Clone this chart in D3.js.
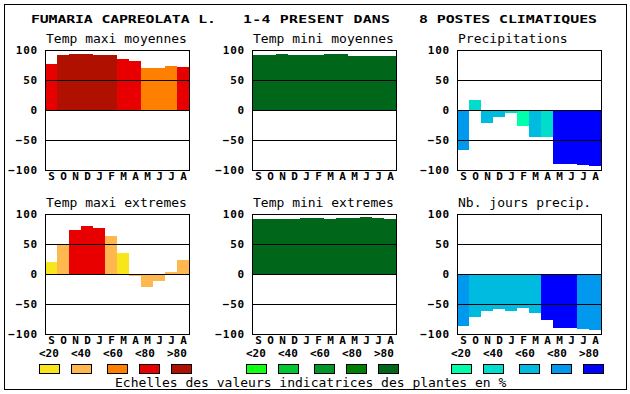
<!DOCTYPE html>
<html><head><meta charset="utf-8">
<script src="https://cdn.jsdelivr.net/npm/d3@7/dist/d3.min.js"></script>
<style>
html,body{margin:0;padding:0;background:#fff;}
svg{display:block;}
text{font-family:"DejaVu Sans Mono",monospace;}
</style></head>
<body>
<svg id="c" width="630" height="394"></svg>
<script>
const months = ["S","O","N","D","J","F","M","A","M","J","J","A"];
const classLabels = ["<20","<40","<60","<80",">80"];
const yTicks = [-100,-50,0,50,100];

const tempMaxiMoy      = [77,92,94,94,92,92,85,82,70,70,74,72];
const tempMaxiMoyClass = [3,4,4,4,4,4,3,3,2,2,2,3];
const tempMiniMoy      = [92,92,94,92,92,92,94,94,90,90,90,90];
const tempMiniMoyClass = [4,4,4,4,4,4,4,4,4,4,4,4];
const precip           = [-67,17,-22,-12,-5,-27,-45,-45,-90,-90,-92,-94];
const precipClass      = [3,1,2,2,1,0,2,1,4,4,4,4];
const tempMaxiExt      = [20,50,74,80,77,64,35,-4,-22,-12,4,24];
const tempMaxiExtClass = [0,1,3,3,3,1,0,1,1,1,1,1];
const tempMiniExt      = [92,92,92,92,94,94,92,94,94,95,94,92];
const tempMiniExtClass = [4,4,4,4,4,4,4,4,4,4,4,4];
const nbJours          = [-87,-72,-61,-58,-61,-56,-65,-77,-90,-90,-92,-94];
const nbJoursClass     = [3,2,2,2,2,2,2,4,4,4,3,3];

const warm  = ["#f8e51c","#ffb84f","#ff8000","#e80000","#b01000"];
const green = ["#11ff11","#00c832","#009628","#008000","#00661a"];
const blue  = ["#00ffaa","#00ddcc","#00bbe0","#0099ee","#0000ff"];

const titleMain = ["FUMARIA CAPREOLATA L.","1-4 PRESENT DANS","8 POSTES CLIMATIQUES"];
const footer = "Echelles des valeurs indicatrices des plantes en %";

const panels = [
  {title:"Temp maxi moyennes", v:tempMaxiMoy, c:tempMaxiMoyClass, pal:warm, col:0, row:0},
  {title:"Temp mini moyennes", v:tempMiniMoy, c:tempMiniMoyClass, pal:green, col:1, row:0},
  {title:"Precipitations", v:precip, c:precipClass, pal:blue, col:2, row:0},
  {title:"Temp maxi extremes", v:tempMaxiExt, c:tempMaxiExtClass, pal:warm, col:0, row:1},
  {title:"Temp mini extremes", v:tempMiniExt, c:tempMiniExtClass, pal:green, col:1, row:1},
  {title:"Nb. jours precip.", v:nbJours, c:nbJoursClass, pal:blue, col:2, row:1}
];
const palettes = [warm, green, blue];

const svg = d3.select("#c");
const lefts = [45, 252, 457];
const tops = [50, 214];
const W = 144, H = 120;

// outer border
svg.append("rect").attr("x",4.5).attr("y",4.5).attr("width",622).attr("height",385)
  .attr("fill","none").attr("stroke","#000").attr("stroke-width",1);

// main title (wide bitmap-like lettering: horizontally stretched text)
const tPos = [[31,185],[243,147],[419,178]];
const sx = 1.35;
titleMain.forEach((t,i)=>{
  svg.append("text").attr("transform",`translate(${tPos[i][0]},23) scale(${sx},1)`).text(t)
    .attr("font-size",11).attr("font-weight","bold")
    .attr("textLength",tPos[i][1]/sx).attr("lengthAdjust","spacing");
});

panels.forEach(p=>{
  const x0 = lefts[p.col], y0 = tops[p.row];
  const g = svg.append("g").attr("transform",`translate(${x0},${y0})`);
  const x = d3.scaleBand().domain(d3.range(12)).range([0,W]).padding(0);
  const y = d3.scaleLinear().domain([-100,100]).range([H,0]);

  g.selectAll("rect.bar").data(p.v).join("rect").attr("class","bar")
    .attr("x",(d,i)=>x(i)).attr("width",x.bandwidth())
    .attr("y",d=>Math.min(y(d),y(0))).attr("height",d=>Math.abs(y(d)-y(0)))
    .attr("fill",(d,i)=>p.pal[p.c[i]]).attr("shape-rendering","crispEdges");

  g.selectAll("line.grid").data([50,0,-50]).join("line").attr("class","grid")
    .attr("x1",0).attr("x2",W).attr("y1",d=>Math.round(y(d))+0.5).attr("y2",d=>Math.round(y(d))+0.5)
    .attr("stroke","#000").attr("stroke-width",1);

  g.append("rect").attr("x",0.5).attr("y",0.5).attr("width",W).attr("height",H)
    .attr("fill","none").attr("stroke","#000").attr("stroke-width",1);

  const ax = g.append("g").call(d3.axisLeft(y).tickValues(yTicks).tickSize(0).tickPadding(7));
  ax.select(".domain").remove();
  ax.selectAll("text").attr("font-family","DejaVu Sans Mono").attr("font-size",11)
    .attr("font-weight","bold").attr("letter-spacing",0.8).attr("fill","#000");

  g.selectAll("text.m").data(months).join("text").attr("class","m")
    .attr("x",(d,i)=>x(i)+x.bandwidth()/2+0.5).attr("y",H+10)
    .attr("text-anchor","middle").attr("font-size",11).attr("font-weight","bold").text(d=>d);

  svg.append("text").attr("x",x0+1).attr("y",y0-7).attr("font-size",13).text(p.title);
});

// legends
palettes.forEach((pal,k)=>{
  const lx = lefts[k]-6;
  classLabels.forEach((lab,i)=>{
    const tx = lx + 32*i;
    svg.append("text").attr("x",tx).attr("y",357).attr("font-size",11).attr("font-weight","bold").text(lab);
    const bx = tx + (i>=2 ? 4 : 0);
    svg.append("rect").attr("x",bx+0.5).attr("y",364.5).attr("width",20).attr("height",9)
      .attr("fill",pal[i]).attr("stroke","#000").attr("stroke-width",1);
  });
});

svg.append("text").attr("x",115).attr("y",387).attr("font-size",13).text(footer);
</script>
</body></html>
